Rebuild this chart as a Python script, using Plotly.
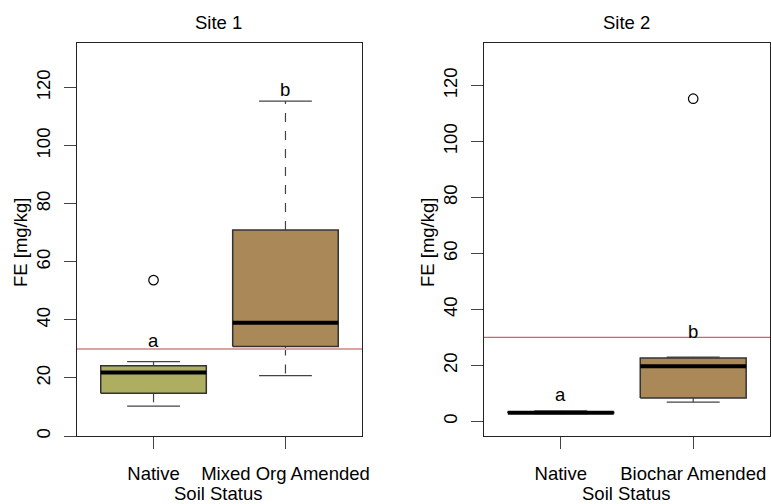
import plotly.graph_objects as go

# ---- data ----
site_titles = ["Site 1", "Site 2"]
site1_groups = ["Native", "Mixed Org Amended"]
site1_min = [10.3, 20.8]
site1_q1 = [14.7, 30.8]
site1_median = [21.9, 39.0]
site1_q3 = [24.2, 71.0]
site1_max = [25.6, 115.4]
site1_outliers = [[53.7], []]
site1_letters = ["a", "b"]
site1_letter_y = [33.0, 119.4]

site2_groups = ["Native", "Biochar Amended"]
site2_min = [2.8, 6.9]
site2_q1 = [3.0, 8.4]
site2_median = [3.1, 19.7]
site2_q3 = [3.3, 22.7]
site2_max = [3.8, 23.0]
site2_outliers = [[], [115.3]]
site2_letters = ["a", "b"]
site2_letter_y = [9.8, 32.2]

fills = ["#AEAE60", "#AA8858"]
threshold = 30
y_ticks = [0, 20, 40, 60, 80, 100, 120]

W, H = 771, 504
FONT = "Liberation Sans, Arial, sans-serif"
FS = 18.5

fig = go.Figure()


def add_site(xa, ya, groups, mins, q1s, meds, q3s, maxs, outs, letters, letter_y):
    for i, g in enumerate(groups):
        c = i + 1
        hw = 0.4
        # whisker stems (dashed)
        fig.add_trace(go.Scatter(x=[c, c], y=[q3s[i], maxs[i]], mode="lines",
                                 line=dict(color="#444", width=1.2, dash="dash"),
                                 xaxis=xa, yaxis=ya, showlegend=False, hoverinfo="skip"))
        fig.add_trace(go.Scatter(x=[c, c], y=[q1s[i], mins[i]], mode="lines",
                                 line=dict(color="#444", width=1.2, dash="dash"),
                                 xaxis=xa, yaxis=ya, showlegend=False, hoverinfo="skip"))
        # caps
        for v in (mins[i], maxs[i]):
            fig.add_trace(go.Scatter(x=[c - hw / 2, c + hw / 2], y=[v, v], mode="lines",
                                     line=dict(color="#444", width=1.2),
                                     xaxis=xa, yaxis=ya, showlegend=False, hoverinfo="skip"))
        # box
        fig.add_trace(go.Scatter(x=[c - hw, c + hw, c + hw, c - hw, c - hw],
                                 y=[q1s[i], q1s[i], q3s[i], q3s[i], q1s[i]],
                                 mode="lines", fill="toself", fillcolor=fills[i],
                                 line=dict(color="#333", width=1.5),
                                 xaxis=xa, yaxis=ya, showlegend=False, hoverinfo="skip"))
        # median
        fig.add_trace(go.Scatter(x=[c - hw, c + hw], y=[meds[i], meds[i]], mode="lines",
                                 line=dict(color="black", width=4),
                                 xaxis=xa, yaxis=ya, showlegend=False, hoverinfo="skip"))
        # outliers
        if outs[i]:
            fig.add_trace(go.Scatter(x=[c] * len(outs[i]), y=outs[i], mode="markers",
                                     marker=dict(symbol="circle-open", size=9.5,
                                                 color="black", line=dict(width=1.2)),
                                     xaxis=xa, yaxis=ya, showlegend=False, hoverinfo="skip"))
        fig.add_annotation(x=c, y=letter_y[i], xref=xa, yref=ya, text=letters[i],
                           showarrow=False, font=dict(family=FONT, size=FS, color="black"))


add_site("x", "y", site1_groups, site1_min, site1_q1, site1_median, site1_q3, site1_max,
         site1_outliers, site1_letters, site1_letter_y)
add_site("x2", "y2", site2_groups, site2_min, site2_q1, site2_median, site2_q3, site2_max,
         site2_outliers, site2_letters, site2_letter_y)

# threshold lines
fig.add_shape(type="line", xref="x domain", yref="y", x0=0, x1=1, y0=threshold, y1=threshold,
              line=dict(color="#DBA3A3", width=2), layer="above")
fig.add_shape(type="line", xref="x2 domain", yref="y2", x0=0, x1=1, y0=threshold, y1=threshold,
              line=dict(color="#CC6666", width=1.2), layer="above")

ydom = [1 - 436 / H, 1 - 43 / H]
axis_common = dict(showline=True, mirror=True, linecolor="#222", linewidth=1,
                   showgrid=False, zeroline=False, ticks="outside", ticklen=12,
                   tickcolor="#444", automargin=False,
                   tickfont=dict(family=FONT, size=FS, color="black"))

fig.update_layout(
    width=W, height=H,
    margin=dict(l=0, r=0, t=0, b=0),
    paper_bgcolor="white", plot_bgcolor="white",
    xaxis=dict(domain=[77 / W, 362 / W], range=[0.42, 2.58], tickvals=[1, 2],
               ticktext=site1_groups, ticklabelstandoff=9, **axis_common),
    yaxis=dict(domain=ydom, range=[0, 135.4], tickvals=y_ticks, tickangle=-90,
               ticklabelstandoff=7, **axis_common),
    xaxis2=dict(domain=[484 / W, 770 / W], range=[0.42, 2.58], tickvals=[1, 2],
                ticktext=site2_groups, ticklabelstandoff=9, anchor="y2", **axis_common),
    yaxis2=dict(domain=ydom, range=[-5.2, 135.2], tickvals=y_ticks, tickangle=-90,
                ticklabelstandoff=7, anchor="x2", **axis_common),
)

# titles & axis titles
def ann(x, y, text, angle=0):
    fig.add_annotation(x=x / W, y=1 - y / H, xref="paper", yref="paper", text=text,
                       showarrow=False, textangle=angle, xanchor="center", yanchor="middle",
                       font=dict(family=FONT, size=FS, color="black"))

ann(218, 23, site_titles[0])
ann(626, 23, site_titles[1])
ann(218, 493, "Soil Status")
ann(626, 493, "Soil Status")
ann(20, 243, "FE [mg/kg]", -90)
ann(427, 243, "FE [mg/kg]", -90)

fig.write_html("out.html")
